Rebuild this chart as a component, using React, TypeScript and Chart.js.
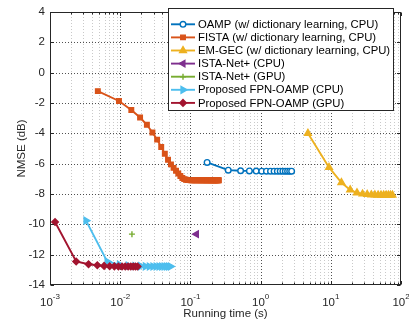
import React, { useEffect, useRef } from 'react';
import { Chart, registerables } from 'chart.js';
import { drawPoint } from 'chart.js/helpers';

Chart.register(...registerables);

// ---------- data ----------
const oampTime = [0.173, 0.346, 0.519, 0.692, 0.865, 1.038, 1.211, 1.384, 1.557, 1.73, 1.903, 2.076, 2.249, 2.422, 2.595, 2.768];
const oampNmse = [-5.92, -6.43, -6.47, -6.48, -6.49, -6.5, -6.5, -6.5, -6.5, -6.5, -6.5, -6.5, -6.5, -6.5, -6.5, -6.5];

const fistaTime = [
  0.0048, 0.0096, 0.0144, 0.0192, 0.024, 0.0288, 0.0336, 0.0384, 0.0432, 0.048,
  0.0528, 0.0576, 0.0624, 0.0672, 0.072, 0.0768, 0.0816, 0.0864, 0.0912, 0.096,
  0.1008, 0.1056, 0.1104, 0.1152, 0.12, 0.1248, 0.1296, 0.1344, 0.1392, 0.144,
  0.1488, 0.1536, 0.1584, 0.1632, 0.168, 0.1728, 0.1776, 0.1824, 0.1872, 0.192,
  0.1968, 0.2016, 0.2064, 0.2112, 0.216, 0.2208, 0.2256, 0.2304, 0.2352, 0.24,
  0.2448, 0.2496, 0.2544,
];
const fistaNmse = [
  -1.22, -1.87, -2.46, -2.96, -3.44, -3.95, -4.42, -4.9, -5.35, -5.75,
  -6.05, -6.28, -6.47, -6.65, -6.82, -6.95, -7.02, -7.06, -7.08, -7.09,
  -7.1, -7.1, -7.1, -7.1, -7.1, -7.1, -7.1, -7.1, -7.1, -7.1,
  -7.1, -7.1, -7.1, -7.1, -7.1, -7.1, -7.1, -7.1, -7.1, -7.1,
  -7.1, -7.1, -7.1, -7.1, -7.1, -7.1, -7.1, -7.1, -7.1, -7.1,
  -7.1, -7.1, -7.1,
];

const emgecTime = [4.72, 9.44, 14.16, 18.88, 23.6, 28.32, 33.04, 37.76, 42.48, 47.2, 51.92, 56.64, 61.36, 66.08, 70.8, 75.52];
const emgecNmse = [-4.0, -6.25, -7.25, -7.73, -7.92, -8.0, -8.03, -8.05, -8.06, -8.07, -8.07, -8.07, -8.07, -8.07, -8.07, -8.07];

const istaCpuTime = [0.122];
const istaCpuNmse = [-10.65];
const istaGpuTime = [0.0147];
const istaGpuNmse = [-10.65];

const fpnCpuTime = [0.00326, 0.00652, 0.00978, 0.01304, 0.0163, 0.01956, 0.02282, 0.02608, 0.02934, 0.0326, 0.03586, 0.03912, 0.04238, 0.04564, 0.0489, 0.05216];
const fpnCpuNmse = [-9.76, -12.45, -12.66, -12.72, -12.75, -12.76, -12.77, -12.78, -12.78, -12.78, -12.78, -12.78, -12.78, -12.78, -12.78, -12.78];

const fpnGpuTime = [0.00118, 0.00236, 0.00354, 0.00472, 0.0059, 0.00708, 0.00826, 0.00944, 0.01062, 0.0118, 0.01298, 0.01416, 0.01534, 0.01652, 0.0177];
const fpnGpuNmse = [-9.85, -12.45, -12.63, -12.7, -12.74, -12.76, -12.77, -12.78, -12.78, -12.78, -12.78, -12.78, -12.78, -12.78, -12.78];

const seriesLabels = [
  'OAMP (w/ dictionary learning, CPU)',
  'FISTA (w/ dictionary learning, CPU)',
  'EM-GEC (w/ dictionary learning, CPU)',
  'ISTA-Net+ (CPU)',
  'ISTA-Net+ (GPU)',
  'Proposed FPN-OAMP (CPU)',
  'Proposed FPN-OAMP (GPU)',
];

const xTickExponents = [-3, -2, -1, 0, 1, 2];
const xMin = 0.001;
const xMax = 100;
const yMin = -14;
const yMax = 4;
const yStep = 2;

const FONT = '"Liberation Sans", Arial, Helvetica, sans-serif';
const AXIS_COLOR = '#262626';

function toPoints(t: number[], v: number[]) {
  return t.map((x, i) => ({ x, y: v[i] }));
}

function series(label: string, t: number[], v: number[], color: string, style: string, radius: number, fill: string, rotation = 0, idx = 0) {
  return {
    label,
    data: toPoints(t, v),
    borderColor: color,
    backgroundColor: color,
    borderWidth: 1.9,
    pointStyle: style,
    pointRadius: radius,
    pointRotation: rotation,
    pointBackgroundColor: fill,
    pointBorderColor: color,
    pointBorderWidth: 1.4,
    tension: 0,
    order: -idx,
  };
}

const matlabPlugin = {
  id: 'matlabAxes',
  beforeDatasetsDraw(chart: any) {
    const { ctx, chartArea: a, scales } = chart;
    const xs = scales.x;
    const ys = scales.y;
    ctx.save();
    ctx.lineWidth = 1;
    ctx.setLineDash([1, 2]);
    // minor x grid
    ctx.strokeStyle = 'rgba(38,38,38,0.25)';
    for (let e = -3; e < 2; e++) {
      for (let m = 2; m <= 9; m++) {
        const px = Math.round(xs.getPixelForValue(m * Math.pow(10, e))) + 0.5;
        ctx.beginPath();
        ctx.moveTo(px, a.bottom);
        ctx.lineTo(px, a.top);
        ctx.stroke();
      }
    }
    // major x grid
    ctx.strokeStyle = 'rgba(38,38,38,0.8)';
    xTickExponents.forEach((e) => {
      const v = Math.pow(10, e);
      if (v <= xMin || v >= xMax) return;
      const px = Math.round(xs.getPixelForValue(v)) + 0.5;
      ctx.beginPath();
      ctx.moveTo(px, a.bottom);
      ctx.lineTo(px, a.top);
      ctx.stroke();
    });
    // major y grid
    ys.ticks.forEach((t: any) => {
      if (t.value <= yMin || t.value >= yMax) return;
      const py = Math.round(ys.getPixelForValue(t.value)) + 0.5;
      ctx.beginPath();
      ctx.moveTo(a.left, py);
      ctx.lineTo(a.right, py);
      ctx.stroke();
    });
    ctx.restore();
  },
  afterDatasetsDraw(chart: any) {
    const { ctx, chartArea: a, scales } = chart;
    const xs = scales.x;
    const ys = scales.y;
    const L = Math.round(a.left) + 0.5;
    const R = Math.round(a.right) - 0.5;
    const T = Math.round(a.top) + 0.5;
    const B = Math.round(a.bottom) - 0.5;
    ctx.save();
    ctx.setLineDash([]);
    ctx.strokeStyle = AXIS_COLOR;
    ctx.lineWidth = 1;
    const tick = (px: number, len: number) => {
      ctx.beginPath();
      ctx.moveTo(px, B);
      ctx.lineTo(px, B - len);
      ctx.moveTo(px, T);
      ctx.lineTo(px, T + len);
      ctx.stroke();
    };
    for (let e = -3; e < 2; e++) {
      for (let m = 2; m <= 9; m++) {
        tick(Math.round(xs.getPixelForValue(m * Math.pow(10, e))) + 0.5, 2);
      }
    }
    xTickExponents.forEach((e) => tick(Math.round(xs.getPixelForValue(Math.pow(10, e))) + 0.5, 3.5));
    ys.ticks.forEach((t: any) => {
      const py = Math.round(ys.getPixelForValue(t.value)) + 0.5;
      ctx.beginPath();
      ctx.moveTo(L, py);
      ctx.lineTo(L + 3.5, py);
      ctx.moveTo(R, py);
      ctx.lineTo(R - 3.5, py);
      ctx.stroke();
    });
    ctx.strokeRect(L, T, R - L, B - T);

    // x tick labels 10^e
    ctx.fillStyle = AXIS_COLOR;
    ctx.textBaseline = 'alphabetic';
    ctx.textAlign = 'left';
    xTickExponents.forEach((e) => {
      const cx = xs.getPixelForValue(Math.pow(10, e));
      ctx.font = `11.5px ${FONT}`;
      const wBase = ctx.measureText('10').width;
      ctx.font = `8px ${FONT}`;
      const expTxt = String(e);
      const wExp = ctx.measureText(expTxt).width;
      const x0 = cx - (wBase + wExp) / 2;
      ctx.font = `11.5px ${FONT}`;
      ctx.fillText('10', x0, 305.5);
      ctx.font = `8px ${FONT}`;
      ctx.fillText(expTxt, x0 + wBase, 298.5);
    });
    ctx.restore();
  },
  afterDraw(chart: any) {
    const { ctx } = chart;
    const datasets = chart.data.datasets;
    const bx = 168.5, by = 8.5, bw = 225, bh = 102;
    ctx.save();
    ctx.setLineDash([]);
    ctx.fillStyle = '#ffffff';
    ctx.fillRect(bx, by, bw, bh);
    ctx.strokeStyle = AXIS_COLOR;
    ctx.lineWidth = 1;
    ctx.strokeRect(bx, by, bw, bh);
    ctx.font = `11.3px ${FONT}`;
    ctx.textBaseline = 'middle';
    ctx.textAlign = 'left';
    datasets.forEach((ds: any, i: number) => {
      const cy = 24.3 + 13.1 * i;
      ctx.strokeStyle = ds.borderColor;
      ctx.lineWidth = 1.9;
      ctx.beginPath();
      ctx.moveTo(171, cy);
      ctx.lineTo(195, cy);
      ctx.stroke();
      ctx.fillStyle = ds.pointBackgroundColor;
      ctx.strokeStyle = ds.pointBorderColor;
      ctx.lineWidth = ds.pointBorderWidth;
      drawPoint(ctx, { pointStyle: ds.pointStyle, rotation: ds.pointRotation, radius: ds.pointRadius, borderWidth: ds.pointBorderWidth }, 183, cy);
      ctx.fillStyle = '#000000';
      ctx.fillText(ds.label, 198, cy + 0.5);
    });
    ctx.restore();
  },
};

export default function App() {
  const canvasRef = useRef<HTMLCanvasElement | null>(null);

  useEffect(() => {
    if (!canvasRef.current) return;
    const chart = new Chart(canvasRef.current, {
      type: 'line',
      data: {
        datasets: [
          series(seriesLabels[0], oampTime, oampNmse, '#0072BD', 'circle', 2.8, '#ffffff', 0, 0),
          series(seriesLabels[1], fistaTime, fistaNmse, '#D95319', 'rect', 3.2, '#D95319', 0, 1),
          series(seriesLabels[2], emgecTime, emgecNmse, '#EDB120', 'triangle', 3.9, '#EDB120', 0, 2),
          series(seriesLabels[3], istaCpuTime, istaCpuNmse, '#7E2F8E', 'triangle', 3.7, '#7E2F8E', -90, 3),
          series(seriesLabels[4], istaGpuTime, istaGpuNmse, '#77AC30', 'cross', 3, '#77AC30', 0, 4),
          series(seriesLabels[5], fpnCpuTime, fpnCpuNmse, '#4DBEEE', 'triangle', 3.9, '#4DBEEE', 90, 5),
          series(seriesLabels[6], fpnGpuTime, fpnGpuNmse, '#A2142F', 'rectRot', 3.3, '#A2142F', 0, 6),
        ],
      },
      options: {
        animation: false,
        responsive: true,
        maintainAspectRatio: false,
        events: [],
        layout: { padding: { top: 9, right: 8, left: 0, bottom: 0 } },
        plugins: { legend: { display: false }, tooltip: { enabled: false } },
        scales: {
          x: {
            type: 'logarithmic',
            min: xMin,
            max: xMax,
            grid: { display: false, drawTicks: false },
            border: { display: false },
            ticks: { display: false },
            title: {
              display: true,
              text: 'Running time (s)',
              color: AXIS_COLOR,
              font: { family: FONT, size: 11.5 },
              padding: { top: 0, bottom: 3.4 },
            },
            afterFit: (s: any) => { s.height = 39; },
          },
          y: {
            type: 'linear',
            min: yMin,
            max: yMax,
            grid: { display: false, drawTicks: false },
            border: { display: false },
            ticks: {
              stepSize: yStep,
              color: AXIS_COLOR,
              padding: 5,
              font: { family: FONT, size: 11.5 },
            },
            title: {
              display: true,
              text: 'NMSE (dB)',
              color: AXIS_COLOR,
              font: { family: FONT, size: 11.5 },
              padding: { top: 15, bottom: 0 },
            },
            afterFit: (s: any) => { s.width = 50; },
          },
        },
      },
      plugins: [matlabPlugin],
    } as any);
    return () => chart.destroy();
  }, []);

  return (
    <div style={{ position: 'fixed', left: 0, top: 0, width: 409, height: 324, background: '#ffffff' }}>
      <canvas ref={canvasRef} />
    </div>
  );
}
